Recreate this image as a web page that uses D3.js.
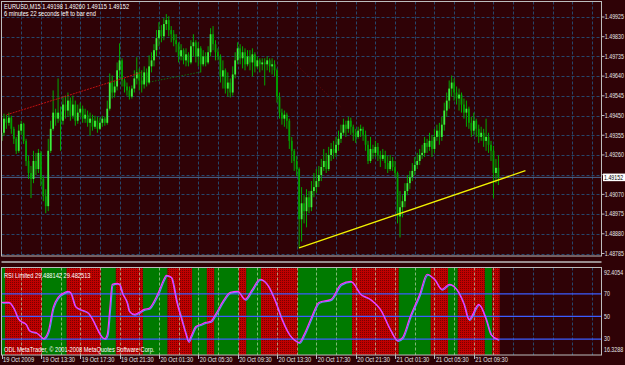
<!DOCTYPE html>
<html>
<head>
<meta charset="utf-8">
<script src="https://cdn.jsdelivr.net/npm/d3@7"></script>
<style>
html,body{margin:0;padding:0;background:#2f0206;}
svg{display:block;}
text{font-family:"Liberation Sans",Arial,sans-serif;font-size:6.8px;}
</style>
</head>
<body>
<svg id="chart" width="625" height="365"></svg>
<script>
// prices are stored in points (0.00001) above basePrice
const basePrice = 1.48;
const firstOpen = 1328;
const closes = [1367,1435,1415,1440,1386,1338,1280,1377,1410,1328,
  1231,1173,1144,1231,1192,1270,1144,1061,1013,1280,
  1386,1464,1435,1464,1425,1503,1474,1522,1449,1503,
  1425,1464,1483,1435,1454,1415,1435,1396,1425,1386,
  1415,1435,1415,1483,1609,1561,1590,1668,1716,1619,
  1590,1571,1541,1580,1629,1658,1619,1600,1658,1609,
  1687,1716,1765,1823,1862,1832,1891,1910,1862,1842,
  1813,1794,1735,1765,1716,1745,1706,1784,1803,1735,
  1774,1697,1735,1706,1755,1842,1794,1755,1735,1638,
  1668,1580,1609,1561,1648,1716,1774,1726,1755,1697,
  1735,1706,1745,1687,1716,1697,1706,1697,1716,1687,
  1697,1668,1541,1464,1435,1454,1425,1328,1280,1231,
  1192,950,1027,989,1056,1008,1086,1105,1134,1163,
  1202,1231,1192,1260,1289,1270,1309,1338,1367,1406,
  1386,1425,1396,1367,1347,1377,1386,1357,1309,1231,
  1289,1270,1299,1260,1241,1260,1221,1192,1231,1202,
  1173,964,1008,1037,1086,1124,1153,1183,1212,1231,
  1260,1270,1318,1299,1328,1289,1347,1377,1347,1406,
  1474,1522,1580,1609,1561,1532,1551,1503,1464,1483,
  1415,1377,1425,1386,1347,1367,1328,1347,1309,1280,
  1173,1198,1152];
const highs = [1386,1459,1454,1464,1449,1396,1347,1406,1425,1415,
  1338,1255,1207,1280,1270,1289,1280,1158,1095,1338,
  1425,1571,1483,1629,1493,1541,1546,1561,1537,1546,
  1522,1503,1512,1498,1483,1474,1464,1454,1449,1444,
  1440,1449,1444,1522,1653,1643,1619,1706,1798,1726,
  1629,1609,1590,1595,1668,1731,1677,1668,1687,1677,
  1740,1755,1794,1862,1900,1886,1920,1939,1929,1881,
  1862,1842,1803,1794,1774,1774,1755,1813,1842,1813,
  1803,1784,1765,1755,1784,1871,1881,1813,1774,1745,
  1716,1677,1658,1629,1687,1755,1803,1794,1784,1774,
  1765,1765,1774,1755,1735,1726,1726,1726,1735,1726,
  1726,1716,1677,1561,1483,1474,1464,1435,1347,1289,
  1255,1200,1105,1066,1095,1086,1134,1173,1192,1207,
  1241,1289,1270,1299,1318,1328,1347,1377,1406,1435,
  1425,1444,1440,1406,1386,1396,1406,1396,1377,1328,
  1347,1309,1328,1318,1280,1289,1280,1255,1260,1250,
  1231,1180,1086,1066,1124,1163,1183,1221,1250,1270,
  1289,1309,1347,1338,1367,1357,1386,1406,1415,1444,
  1512,1561,1619,1643,1629,1590,1580,1561,1532,1522,
  1493,1444,1464,1435,1406,1396,1386,1435,1367,1328,
  1304,1241,1260];
const lows = [1294,1352,1386,1401,1362,1313,1265,1270,1357,1313,
  1207,1144,1052,1124,1163,1173,1110,1037,979,989,
  1270,1377,1401,1415,1280,1406,1435,1444,1425,1435,
  1401,1410,1444,1415,1415,1396,1352,1377,1386,1367,
  1380,1396,1401,1406,1474,1532,1537,1571,1629,1590,
  1561,1546,1527,1532,1561,1600,1571,1561,1580,1590,
  1600,1658,1687,1735,1784,1803,1813,1862,1832,1803,
  1784,1755,1706,1716,1697,1687,1687,1697,1735,1706,
  1687,1658,1687,1687,1697,1735,1765,1716,1716,1609,
  1580,1556,1541,1537,1546,1629,1697,1697,1677,1668,
  1687,1668,1638,1658,1677,1658,1668,1595,1668,1658,
  1648,1638,1512,1435,1406,1396,1386,1289,1221,1183,
  1158,809,843,930,911,979,989,1056,1076,1105,
  1134,1183,1173,1183,1231,1241,1250,1280,1318,1357,
  1347,1367,1357,1328,1318,1338,1347,1328,1280,1216,
  1221,1241,1250,1231,1202,1231,1192,1173,1183,1183,
  1153,930,862,959,1008,1066,1095,1134,1163,1192,
  1212,1241,1250,1270,1280,1250,1270,1328,1309,1328,
  1377,1444,1483,1541,1522,1503,1474,1464,1435,1396,
  1386,1347,1357,1347,1318,1328,1299,1280,1270,1231,
  1052,1124,1115];

const bidPrice = 1.49152;
const priceTicks = [1.49925,1.49830,1.49735,1.49640,1.49545,1.49450,1.49355,1.49260,1.49165,1.49070,1.48975,1.48880,1.48785];

// RSI readings (bar index, value)
const rsiBars = [0,3,5,7,8,10,11,12,14,16,17,19,21,23,25,27,28,30,32,35,37,39,41,42,43,44,45,47,48,49,
  51,52,54,56,58,60,62,64,66,67,69,70,71,73,75,76,77,79,81,83,85,87,90,93,96,99,102,105,108,111,
  114,117,120,121,123,126,129,134,138,142,146,150,154,158,161,163,166,170,173,176,179,182,185,188,190,194,197,199,202];
const rsiVals = [62.4,62.4,57,47.3,45.6,42.9,38.4,36.7,35.8,32.2,30.4,36.7,58,66.9,70.4,72.2,71.3,58.9,56.2,53.6,
  47.3,38.4,31.3,30.4,34,56.2,78.4,79.3,78.4,71.3,62.4,54.4,51.8,53.6,56.2,57.1,63.3,72.2,82.9,86.4,
  84.7,76.7,65.1,49.1,34,27.8,32.2,41.1,42.9,44.7,45.6,51.8,63.3,71.3,72.2,65.1,74,82.9,78.4,65.1,
  47.3,34,27.8,26.9,34,49.1,62.4,65.1,78.4,81.1,69.6,65.1,56.2,38.4,28.7,31.3,49.1,69.6,87.3,82.9,
  74,78.4,74,60.7,47.3,60.7,47.3,34,29.49];
const rsiLevels = [70, 50, 30];
const rsiLabels = ["92.4054", "70", "50", "30", "16.3288"];
const rsiLabelVals = [92.4054, 70, 50, 30, 16.3288];

// background bands of the RSI window: first bar of each band and its colour
const bandStarts = [0,2,17,27,41,47,58,68,78,84,87,97,100,106,121,143,162,175,182,186,197,200];
const bandColors = ["g","r","g","r","g","r","g","r","g","r","g","r","g","r","g","r","g","r","g","r","g","r"];

const timeTickBars = [0,16,32,48,64,80,96,112,128,144,160,176,192];
const timeTickLabels = ["19 Oct 2009","19 Oct 13:30","19 Oct 17:30","19 Oct 21:30","20 Oct 01:30","20 Oct 05:30",
  "20 Oct 09:30","20 Oct 13:30","20 Oct 17:30","20 Oct 21:30","21 Oct 01:30","21 Oct 05:30","21 Oct 09:30"];

// drawn trend lines: [bar, price] pairs
const yellowLine = [[121, 1.48812], [213, 1.49184]];
const redLine = [[2.2, 1.49454], [57, 1.49658]];
const greenDotLine = [[60, 1.49611], [81, 1.49660]];
const faintRedLine = [[118, 1.49716], [138, 1.49490]];

const header1 = "EURUSD,M15  1.49198 1.49260 1.49115 1.49152";
const header2 = "6 minutes 22 seconds left to bar end";
const rsiTitle = "RSI Limited 29.488142 29.482513";
const copyright = "ODL MetaTrader, \u00a9 2001-2008 MetaQuotes Software Corp.";

// ---------- layout ----------
const bg = "#2f0206", gridCol = "#27466b", frameCol = "#bdbdbd";
const left = 1.5, right = 601.5;
const mainTop = 1.5, mainBot = 256;
const rsiTop = 267.5, rsiBot = 355;
const nBars = closes.length;

const svg = d3.select("#chart");
const x = d3.scaleLinear().domain([0, nBars - 1]).range([1.5, 498.4]);
const y = d3.scaleLinear().domain([1.48785, 1.49925]).range([253.5, 17]);
const yr = d3.scaleLinear().domain([16.3288, 92.4054]).range([354.5, 268.5]);
const px = v => basePrice + v / 1e5;

const bars = closes.map((c, i) => ({
  i: i,
  o: px(i === 0 ? firstOpen : closes[i - 1]),
  c: px(c), h: px(highs[i]), l: px(lows[i])
}));

svg.append("rect").attr("width", 625).attr("height", 365).attr("fill", bg);

const defs = svg.append("defs");
const pat = defs.append("pattern").attr("id", "redDots")
  .attr("width", 2).attr("height", 2).attr("patternUnits", "userSpaceOnUse");
pat.append("rect").attr("width", 2).attr("height", 2).attr("fill", "#c00000");
pat.append("rect").attr("width", 1).attr("height", 1).attr("fill", "#780000");
defs.append("clipPath").attr("id", "clipMain").append("rect")
  .attr("x", left).attr("y", mainTop).attr("width", right - left).attr("height", mainBot - mainTop);
defs.append("clipPath").attr("id", "clipRsi").append("rect")
  .attr("x", left).attr("y", rsiTop).attr("width", right - left).attr("height", rsiBot - rsiTop);

function txt(g, tx, ty, s, col, sx) {
  return g.append("text")
    .attr("transform", `translate(${tx},${ty}) scale(${sx || 0.84},1)`)
    .attr("fill", col || "#e6e6e6")
    .text(s);
}

const gridBars = d3.range(8, 244, 8);

// ---------- main window ----------
const gm = svg.append("g").attr("clip-path", "url(#clipMain)");
gm.selectAll("line.hgrid").data(priceTicks).join("line")
  .attr("x1", left).attr("x2", right)
  .attr("y1", d => Math.round(y(d)) + 0.5).attr("y2", d => Math.round(y(d)) + 0.5)
  .attr("stroke", gridCol).attr("stroke-dasharray", "3,2");
gm.selectAll("line.vgrid").data(gridBars).join("line")
  .attr("x1", d => Math.round(x(d)) + 0.5).attr("x2", d => Math.round(x(d)) + 0.5)
  .attr("y1", mainTop).attr("y2", mainBot)
  .attr("stroke", gridCol).attr("stroke-dasharray", "3,2");
gm.append("line").attr("x1", left).attr("x2", right)
  .attr("y1", y(bidPrice)).attr("y2", y(bidPrice))
  .attr("stroke", "#4a6890").attr("stroke-width", 1);

// faint trend lines behind candles
const tl = d3.line().x(d => x(d[0])).y(d => y(d[1]));
gm.append("path").attr("d", tl(greenDotLine)).attr("fill", "none")
  .attr("stroke", "#0a6a10").attr("stroke-dasharray", "1.5,1.5");
gm.append("path").attr("d", tl(faintRedLine)).attr("fill", "none")
  .attr("stroke", "#6a0808").attr("stroke-dasharray", "1,2");

const gc = gm.append("g");
gc.selectAll("line.wick").data(bars).join("line")
  .attr("x1", d => x(d.i)).attr("x2", d => x(d.i))
  .attr("y1", d => y(d.h)).attr("y2", d => y(d.l))
  .attr("stroke", "#00a800").attr("stroke-width", 1);
gc.selectAll("rect.body").data(bars).join("rect")
  .attr("x", d => x(d.i) - 0.9).attr("width", 1.8)
  .attr("y", d => y(Math.max(d.o, d.c)))
  .attr("height", d => Math.max(0.8, Math.abs(y(d.o) - y(d.c))))
  .attr("fill", d => d.c >= d.o ? "#3cf03c" : "#00a000");

gm.append("path").attr("d", tl(redLine)).attr("fill", "none")
  .attr("stroke", "#c01010").attr("stroke-width", 1).attr("stroke-dasharray", "2,1");
gm.append("path").attr("d", tl(yellowLine)).attr("fill", "none")
  .attr("stroke", "#f2f200").attr("stroke-width", 1.3);

svg.append("rect").attr("x", left).attr("y", mainTop).attr("width", right - left).attr("height", mainBot - mainTop)
  .attr("fill", "none").attr("stroke", frameCol);

txt(svg, 4, 9.2, header1, "#ffffff");
txt(svg, 4, 15.6, header2, "#ffffff");

// price axis; the tick hidden under the bid box is not labelled
const ga = svg.append("g");
ga.selectAll("line").data(priceTicks).join("line")
  .attr("x1", right).attr("x2", right + 3)
  .attr("y1", d => y(d)).attr("y2", d => y(d)).attr("stroke", frameCol);
priceTicks.filter(p => Math.abs(y(p) - y(bidPrice)) > 6)
  .forEach(p => txt(ga, 604.8, y(p) + 2.3, p.toFixed(5), null, 0.78));
ga.append("rect").attr("x", 603).attr("y", y(bidPrice) - 3.8).attr("width", 22).attr("height", 7.6).attr("fill", "#ffffff");
txt(ga, 604, y(bidPrice) + 2.3, bidPrice.toFixed(5), "#000000", 0.78);

// separator
svg.append("line").attr("x1", left).attr("x2", right).attr("y1", 262).attr("y2", 262)
  .attr("stroke", frameCol).attr("stroke-width", 1.4);

// ---------- RSI window ----------
const gr = svg.append("g").attr("clip-path", "url(#clipRsi)");
const bands = bandStarts.map((s, k) => ({
  s: s, e: k + 1 < bandStarts.length ? bandStarts[k + 1] : nBars, col: bandColors[k]
}));
const halfBar = (x(1) - x(0)) / 2;
gr.selectAll("rect.band").data(bands).join("rect")
  .attr("x", d => x(d.s) - halfBar).attr("width", d => x(d.e) - x(d.s))
  .attr("y", rsiTop).attr("height", rsiBot - rsiTop)
  .attr("fill", d => d.col === "g" ? "#007a00" : "url(#redDots)");
const lastX = x(nBars - 1) + halfBar;
gr.selectAll("line.vgrid").data(gridBars).join("line")
  .attr("x1", d => Math.round(x(d)) + 0.5).attr("x2", d => Math.round(x(d)) + 0.5)
  .attr("y1", rsiTop).attr("y2", rsiBot)
  .attr("stroke", d => x(d) < lastX ? "#b8d4a8" : gridCol)
  .attr("stroke-opacity", d => x(d) < lastX ? 0.7 : 1)
  .attr("stroke-dasharray", "3,2");
gr.selectAll("line.level").data(rsiLevels).join("line")
  .attr("x1", left).attr("x2", right)
  .attr("y1", d => yr(d)).attr("y2", d => yr(d))
  .attr("stroke", "#3b5cff").attr("stroke-width", 1.2);

const rsiPts = rsiBars.map((b, k) => [b, rsiVals[k]]);
const rl = d3.line().x(d => x(d[0])).y(d => yr(d[1])).curve(d3.curveMonotoneX);
gr.append("path").attr("d", rl(rsiPts)).attr("fill", "none")
  .attr("stroke", "#5a8cff").attr("stroke-width", 1.2).attr("transform", "translate(0.8,0.8)");
gr.append("path").attr("d", rl(rsiPts)).attr("fill", "none")
  .attr("stroke", "#ff30ff").attr("stroke-width", 1.2);

svg.append("rect").attr("x", left).attr("y", rsiTop).attr("width", right - left).attr("height", rsiBot - rsiTop)
  .attr("fill", "none").attr("stroke", frameCol);
txt(svg, 4, 277.6, rsiTitle, "#ffffff");
txt(svg, 4, 351.5, copyright, "#ffffff");

rsiLabels.forEach((s, k) => {
  let ty = yr(rsiLabelVals[k]) + 2.3;
  if (k === 0) ty = 275.3;
  if (k === rsiLabels.length - 1) ty = 352;
  txt(svg, 604, ty, s, null, 0.78);
});

// time axis
const gt = svg.append("g");
gt.selectAll("line").data(timeTickBars).join("line")
  .attr("x1", d => Math.round(x(d)) + 0.5).attr("x2", d => Math.round(x(d)) + 0.5)
  .attr("y1", rsiBot).attr("y2", rsiBot + 4).attr("stroke", frameCol);
timeTickBars.forEach((b, k) => txt(gt, x(b) + 1.5, 362, timeTickLabels[k]));
</script>
</body>
</html>
